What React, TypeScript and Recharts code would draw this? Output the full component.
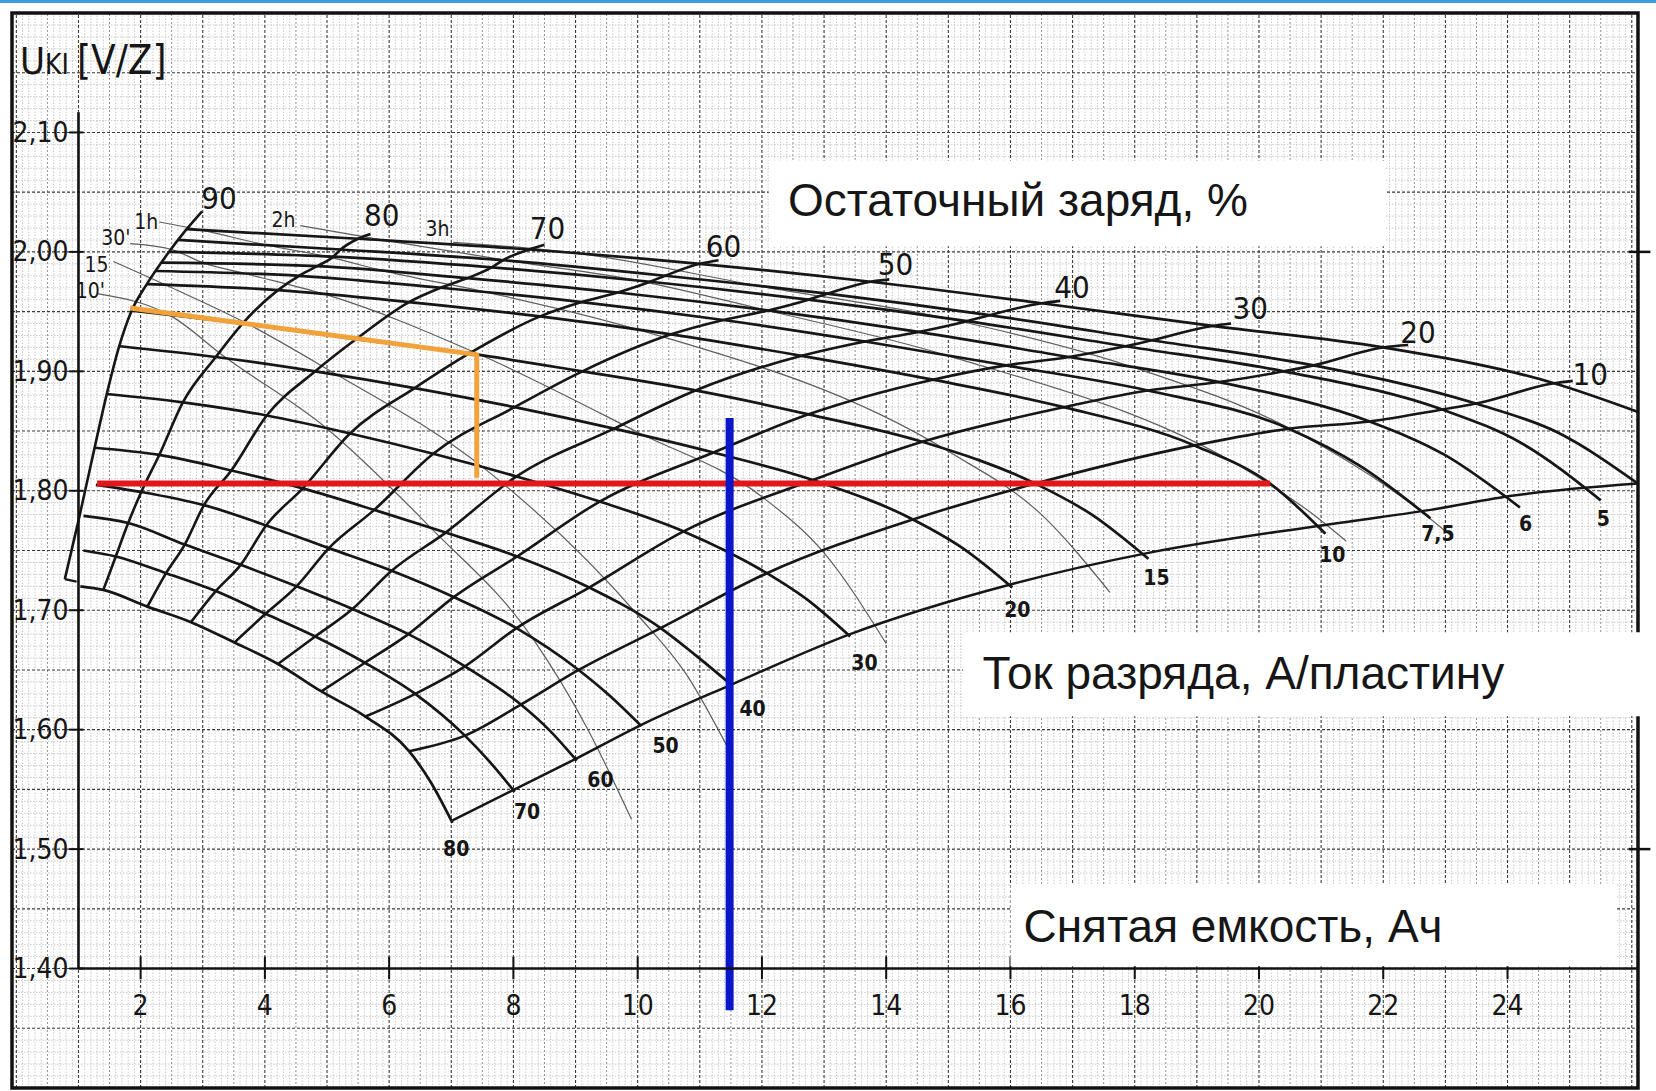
import React from "react";
import {
  Line,
  LineChart,
  ReferenceArea,
  ReferenceDot,
  ReferenceLine,
  XAxis,
  YAxis,
} from "recharts";

const W = 1656;
const H = 1091;
const X_DOMAIN: [number, number] = [-0.07, 26.1];
const Y_DOMAIN: [number, number] = [1.3, 2.2];

const SCAN_FONT = "'DejaVu Sans Condensed', 'Liberation Sans Narrow', 'DejaVu Sans', sans-serif";
const SLIDE_FONT = "'Liberation Sans', Arial, sans-serif";
const INK = "#161616";

// discharge current curves, A per plate (x = Ah taken out, v = V per cell)
// index 0 = start on the 90 % line, 1..8 = crossings with 80..10 %, then knee and end
const c80X = [1.03, 1.4, 2.11, 2.81, 3.51, 4.21, 4.91, 5.62, 6.32, 6.67, 7.02];
const c80V = [1.72, 1.717, 1.703, 1.69, 1.673, 1.655, 1.632, 1.611, 1.582, 1.556, 1.522];
const c70X = [1.08, 1.6, 2.41, 3.21, 4.01, 4.81, 5.61, 6.42, 7.22, 7.62, 8.02];
const c70V = [1.75, 1.745, 1.731, 1.716, 1.697, 1.678, 1.656, 1.63, 1.595, 1.573, 1.548];
const c60X = [1.08, 1.8, 2.71, 3.61, 4.51, 5.41, 6.31, 7.22, 8.12, 8.57, 9.02];
const c60V = [1.779, 1.773, 1.755, 1.738, 1.72, 1.701, 1.68, 1.653, 1.621, 1.6, 1.574];
const c50X = [1.28, 2.01, 3.02, 4.02, 5.03, 6.04, 7.04, 8.05, 9.05, 9.56, 10.06];
const c50V = [1.805, 1.799, 1.788, 1.771, 1.752, 1.733, 1.711, 1.685, 1.65, 1.628, 1.603];
const c40X = [1.26, 2.3, 3.46, 4.61, 5.76, 6.91, 8.06, 9.22, 10.37, 10.94, 11.52];
const c40V = [1.836, 1.83, 1.817, 1.802, 1.784, 1.765, 1.745, 1.719, 1.685, 1.662, 1.637];
const c30X = [1.46, 2.68, 4.03, 5.37, 6.71, 8.05, 9.39, 10.74, 12.08, 12.75, 13.42];
const c30V = [1.881, 1.874, 1.863, 1.848, 1.831, 1.812, 1.791, 1.766, 1.731, 1.708, 1.678];
const c20X = [1.67, 3.21, 4.81, 6.41, 8.02, 9.62, 11.22, 12.82, 14.43, 15.23, 16.03];
const c20V = [1.921, 1.912, 1.9, 1.886, 1.87, 1.852, 1.832, 1.809, 1.776, 1.752, 1.719];
const c15X = [1.83, 3.64, 5.47, 7.29, 9.11, 10.93, 12.75, 14.58, 16.4, 17.31, 18.22];
const c15V = [1.951, 1.94, 1.927, 1.915, 1.9, 1.884, 1.864, 1.841, 1.806, 1.78, 1.743];
const c10X = [2.1, 4.21, 6.32, 8.43, 10.54, 12.64, 14.75, 16.86, 18.96, 20.18, 21.07];
const c10V = [1.973, 1.968, 1.958, 1.946, 1.931, 1.913, 1.893, 1.87, 1.838, 1.806, 1.764];
const c75X = [2.24, 4.55, 6.83, 9.1, 11.38, 13.66, 15.93, 18.21, 20.48, 21.62, 22.76];
const c75V = [1.984, 1.98, 1.97, 1.958, 1.943, 1.925, 1.905, 1.884, 1.852, 1.821, 1.777];
const c6X = [2.34, 4.84, 7.26, 9.68, 12.1, 14.52, 16.94, 19.36, 21.78, 22.99, 24.2];
const c6V = [1.991, 1.988, 1.978, 1.966, 1.951, 1.933, 1.912, 1.891, 1.858, 1.83, 1.786];
const c5X = [2.46, 5.1, 7.65, 10.2, 12.75, 15.3, 17.85, 20.4, 22.95, 24.22, 25.5];
const c5V = [2.0, 1.996, 1.987, 1.975, 1.96, 1.942, 1.921, 1.9, 1.868, 1.84, 1.792];
const c4X = [2.6, 5.22, 7.83, 10.44, 13.05, 15.66, 18.27, 20.88, 23.49, 24.8, 26.1];
const c4V = [2.01, 2.002, 1.993, 1.98, 1.965, 1.947, 1.926, 1.905, 1.873, 1.849, 1.806];
const c3X = [2.74, 5.5, 8.25, 11.0, 13.75, 16.5, 19.25, 22.0, 24.75, 26.1];
const c3V = [2.019, 2.011, 2.002, 1.99, 1.975, 1.957, 1.938, 1.92, 1.89, 1.866];

// residual charge lines: 90 % drawn on its own, 80..10 % run through the crossings above
const soc90X = [0.78, 1.0, 1.2, 1.46, 1.65, 1.85, 2.1, 2.4, 2.74, 2.99];
const soc90V = [1.726, 1.775, 1.822, 1.882, 1.92, 1.95, 1.973, 1.996, 2.019, 2.034];
const hook90X = [0.78, 0.97];
const hook90V = [1.726, 1.724];
const socLevels = ["80", "70", "60", "50", "40", "30", "20", "10"];
const socTailX = [5.7, 8.5, 11.3, 14.05, 16.8, 19.55, 22.4, 25.05];
const socTailV = [2.015, 2.006, 1.993, 1.977, 1.959, 1.94, 1.922, 1.892];

// end-of-discharge line
const endX = [7.02, 8.02, 9.02, 10.06, 11.52, 13.42, 16.03, 18.22, 21.0, 22.76, 24.1, 26.1];
const endV = [1.524, 1.55, 1.576, 1.604, 1.638, 1.68, 1.722, 1.748, 1.771, 1.784, 1.796, 1.806];

// thin discharge-time lines
const t10X = [1.3, 2.5, 3.33, 5.0, 6.67, 8.33, 9.2, 9.9];
const t10V = [1.965, 1.946, 1.913, 1.852, 1.769, 1.675, 1.6, 1.525];
const t15X = [1.56, 2.5, 3.75, 5.0, 7.5, 10.0, 10.8, 11.45];
const t15V = [1.992, 1.97, 1.939, 1.902, 1.82, 1.696, 1.645, 1.585];
const t30X = [1.83, 2.5, 3.0, 3.75, 5.0, 7.5, 10.0, 12.0, 13.0, 14.0];
const t30V = [2.007, 2.002, 1.991, 1.981, 1.964, 1.913, 1.849, 1.795, 1.748, 1.672];
const t1hX = [2.3, 3.0, 4.0, 5.0, 6.0, 7.5, 10.0, 15.0, 16.5, 17.6];
const t1hV = [2.025, 2.018, 2.006, 1.996, 1.983, 1.967, 1.935, 1.833, 1.78, 1.715];
const t2hX = [4.57, 6.0, 8.0, 10.0, 12.0, 15.0, 20.0, 20.8, 21.4];
const t2hV = [2.022, 2.009, 1.992, 1.976, 1.952, 1.913, 1.811, 1.783, 1.758];
const t3hX = [7.03, 9.0, 12.0, 15.0, 18.0, 20.5, 22.5, 23.1];
const t3hV = [2.008, 1.999, 1.971, 1.944, 1.903, 1.852, 1.787, 1.762];

// reading example drawn over the scan
const redX = [1.3, 20.18];
const redV = [1.806, 1.806];
const orangeX = [1.83, 7.41, 7.41];
const orangeV = [1.953, 1.914, 1.811];
const blueX = [11.48, 11.48];
const blueV = [1.861, 1.365];

// labels
const socLabelText = ["90", "80", "70", "60", "50", "40", "30", "20", "10"];
const socLabelX = [3.26, 5.88, 8.55, 11.38, 14.15, 16.99, 19.86, 22.56, 25.33];
const socLabelY = [2.045, 2.031, 2.02, 2.005, 1.99, 1.971, 1.953, 1.933, 1.898];
const curLabelText = ["80", "70", "60", "50", "40", "30", "20", "15", "10", "7,5", "6", "5"];
const curLabelX = [7.08, 8.22, 9.4, 10.45, 11.85, 13.65, 16.11, 18.35, 21.18, 22.88, 24.29, 25.54];
const curLabelY = [1.5, 1.531, 1.558, 1.586, 1.617, 1.656, 1.7, 1.727, 1.746, 1.764, 1.772, 1.776];
const timeLabelText = ["10'", "15", "30'", "1h", "2h", "3h"];
const timeLabelX = [1.19, 1.29, 1.6, 2.09, 4.3, 6.78];
const timeLabelY = [1.967, 1.989, 2.012, 2.025, 2.027, 2.019];
const xTickVals = [2, 4, 6, 8, 10, 12, 14, 16, 18, 20, 22, 24];
const yTickVals = [2.1, 2.0, 1.9, 1.8, 1.7, 1.6, 1.5, 1.4];
const yTickText = ["2,10", "2,00", "1,90", "1,80", "1,70", "1,60", "1,50", "1,40"];
const rightTickVals = [2.0, 1.5];

const zip = (xs: number[], ys: number[]) => xs.map((x, i) => ({ x, y: ys[i] }));

const currentCurves = [
  zip(c80X, c80V), zip(c70X, c70V), zip(c60X, c60V), zip(c50X, c50V),
  zip(c40X, c40V), zip(c30X, c30V), zip(c20X, c20V), zip(c15X, c15V),
  zip(c10X, c10V), zip(c75X, c75V), zip(c6X, c6V), zip(c5X, c5V),
  zip(c4X, c4V), zip(c3X, c3V),
];

const socLines = socLevels.map((_, i) => [
  ...currentCurves.map((c) => c[i + 1]),
  { x: socTailX[i], y: socTailV[i] },
]);

const timeLines = [zip(t10X, t10V), zip(t15X, t15V), zip(t30X, t30V), zip(t1hX, t1hV), zip(t2hX, t2hV), zip(t3hX, t3hV)];

// graph paper rulings
const fineX = Array.from({ length: 262 }, (_, i) => i / 10).filter((v) => Math.round(v * 10) % 5 !== 0);
const halfX = Array.from({ length: 26 }, (_, i) => i + 0.5);
const majorX = Array.from({ length: 27 }, (_, i) => i);
const fineY = Array.from({ length: 91 }, (_, i) => (130 + i) / 100).filter((_, i) => i % 5 !== 0);
const majorY = Array.from({ length: 19 }, (_, i) => (130 + i * 5) / 100);

function textDot(key: string, x: number, y: number, text: React.ReactNode, size: number, opts: any = {}) {
  const { anchor = "middle", family = SCAN_FONT, baseline = "central", weight = 400 } = opts;
  return (
    <ReferenceDot
      key={key}
      x={x}
      y={y}
      r={0}
      ifOverflow="visible"
      zIndex={1200}
      shape={(p: any) => (
        <text
          x={p.cx}
          y={p.cy}
          fontSize={size}
          fontFamily={family}
          fontWeight={weight}
          textAnchor={anchor}
          dominantBaseline={baseline}
          fill={INK}
        >
          {text}
        </text>
      )}
    />
  );
}

const series = (key: string, d: { x: number; y: number }[], stroke: string, width: number, type: any = "monotone") => (
  <Line
    key={key}
    data={d}
    dataKey="y"
    type={type}
    stroke={stroke}
    strokeWidth={width}
    strokeLinejoin="round"
    dot={false}
    activeDot={false}
    isAnimationActive={false}
  />
);

export default function App() {
  return (
    <div style={{ position: "absolute", left: 0, top: 0, width: W, height: H, background: "#fff", overflow: "hidden" }}>
      <div style={{ position: "absolute", left: 0, top: 0, width: W, height: 3, background: "#3d9be0" }} />
      <LineChart width={W} height={H} margin={{ top: 13, right: 18, bottom: 3, left: 12 }}>
        <XAxis dataKey="x" type="number" domain={X_DOMAIN} hide allowDataOverflow />
        <YAxis type="number" domain={Y_DOMAIN} hide allowDataOverflow />

        {/* graph paper */}
        {fineX.map((v) => (
          <ReferenceLine key={"fx" + v} x={v} stroke="#bdbdbd" strokeWidth={0.8} strokeDasharray="1.5 1.5" zIndex={-60} />
        ))}
        {fineY.map((v) => (
          <ReferenceLine key={"fy" + v} y={v} stroke="#bdbdbd" strokeWidth={0.8} strokeDasharray="1.5 1.5" zIndex={-60} />
        ))}
        {halfX.map((v) => (
          <ReferenceLine key={"hx" + v} x={v} stroke="#858585" strokeWidth={0.9} strokeDasharray="2 2" zIndex={-55} />
        ))}
        {majorX.map((v) => (
          <ReferenceLine key={"mx" + v} x={v} stroke="#3a3a3a" strokeWidth={1.1} strokeDasharray="3 2" zIndex={-50} />
        ))}
        {majorY.map((v) => (
          <ReferenceLine key={"my" + v} y={v} stroke="#3a3a3a" strokeWidth={1.1} strokeDasharray="3 2" zIndex={-50} />
        ))}

        <ReferenceArea x1={X_DOMAIN[0]} x2={X_DOMAIN[1]} y1={Y_DOMAIN[0]} y2={Y_DOMAIN[1]} fill="none" stroke="#111" strokeWidth={3.5} ifOverflow="visible" />

        {timeLines.map((d, i) => series("t" + i, d, "#5e5e5e", 1.2))}
        {currentCurves.map((d, i) => series("c" + i, d, INK, 2.7))}
        {socLines.map((d, i) => series("s" + i, d, INK, 2.6))}
        {series("soc90", zip(soc90X, soc90V), INK, 2.6)}
        {series("hook90", zip(hook90X, hook90V), INK, 2.2, "linear")}
        {series("end", zip(endX, endV), INK, 2.5)}

        {series("red", zip(redX, redV), "#e2171b", 6, "linear")}
        {series("orange", zip(orangeX, orangeV), "#f2a23a", 5, "linear")}
        {series("blue", zip(blueX, blueV), "#0a17c9", 8, "linear")}

        {/* axes of the scanned chart */}
        <ReferenceLine segment={[{ x: 1, y: 1.4 }, { x: 1, y: 2.117 }]} stroke="#111" strokeWidth={2.6} />
        {yTickVals.map((v) => (
          <ReferenceLine key={"yt" + v} segment={[{ x: 0.85, y: v }, { x: 1.08, y: v }]} stroke="#111" strokeWidth={2} />
        ))}
        {rightTickVals.map((v) => (
          <ReferenceLine key={"rt" + v} segment={[{ x: 25.95, y: v }, { x: 26.3, y: v }]} stroke="#111" strokeWidth={2.5} ifOverflow="visible" />
        ))}

        {/* white boxes pasted over the scan */}
        <ReferenceArea x1={12.11} x2={22.04} y1={2.0047} y2={2.0766} fill="#fff" fillOpacity={1} stroke="none" ifOverflow="visible" zIndex={1100} />
        <ReferenceArea x1={15.24} x2={26.2} y1={1.6113} y2={1.6816} fill="#fff" fillOpacity={1} stroke="none" ifOverflow="visible" zIndex={1100} />
        <ReferenceArea x1={16.0} x2={25.75} y1={1.402} y2={1.4708} fill="#fff" fillOpacity={1} stroke="none" ifOverflow="visible" zIndex={1100} />

        <ReferenceLine segment={[{ x: 1, y: 1.4 }, { x: 26.1, y: 1.4 }]} stroke="#111" strokeWidth={2.6} zIndex={1150} />
        {xTickVals.map((v) => (
          <ReferenceLine key={"xt" + v} segment={[{ x: v, y: 1.391 }, { x: v, y: 1.41 }]} stroke="#111" strokeWidth={2} />
        ))}

        {textDot("box1", 12.42, 2.03, "Остаточный заряд, %", 46, { anchor: "start", family: SLIDE_FONT, baseline: "alphabetic" })}
        {textDot("box2", 15.55, 1.634, "Ток разряда, А/пластину", 46, { anchor: "start", family: SLIDE_FONT, baseline: "alphabetic" })}
        {textDot("box3", 16.21, 1.422, "Снятая емкость, Ач", 46, { anchor: "start", family: SLIDE_FONT, baseline: "alphabetic" })}

        {socLabelText.map((t, i) => textDot("sl" + i, socLabelX[i], socLabelY[i], t, 31))}
        {curLabelText.map((t, i) => textDot("cl" + i, curLabelX[i], curLabelY[i], t, 21, { weight: 700 }))}
        {timeLabelText.map((t, i) => textDot("tl" + i, timeLabelX[i], timeLabelY[i], t, 21))}
        {xTickVals.map((v) => textDot("xl" + v, v, 1.369, String(v), 28))}
        {yTickVals.map((v, i) => textDot("yl" + v, 0.84, v, yTickText[i], 28, { anchor: "end" }))}
        {textDot(
          "unit",
          0.06,
          2.1486,
          <>
            <tspan fontSize={38}>U</tspan>
            <tspan fontSize={28}>KI</tspan>
            <tspan fontSize={40} dx={8}>[V/Z]</tspan>
          </>,
          38,
          { anchor: "start", baseline: "alphabetic" }
        )}
      </LineChart>
    </div>
  );
}
